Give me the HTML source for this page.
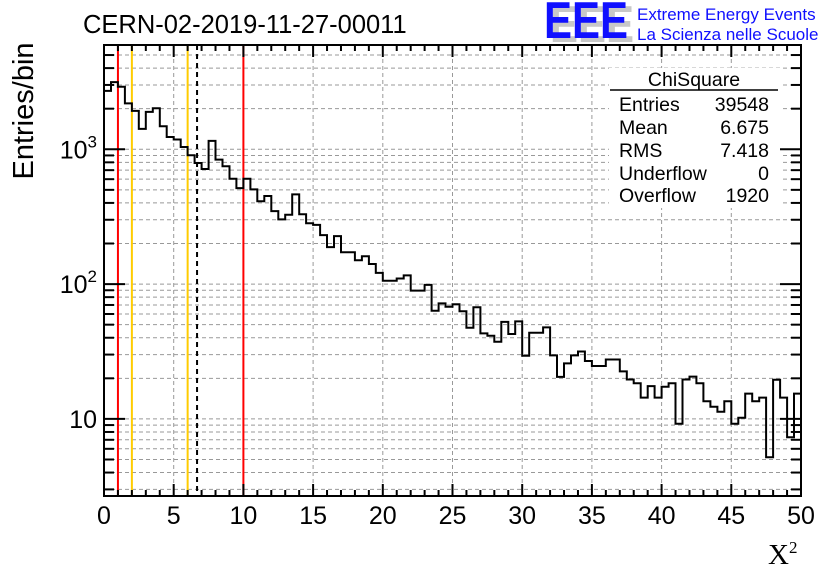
<!DOCTYPE html>
<html><head><meta charset="utf-8"><style>
html,body{margin:0;padding:0;background:#fff;}
svg{display:block;font-family:"Liberation Sans",sans-serif;}
</style></head><body>
<svg id="chart" width="836" height="572" viewBox="0 0 836 572" xmlns="http://www.w3.org/2000/svg">
<rect width="836" height="572" fill="#fff"/>
<g id="grid"></g>
<g id="vlines"></g>
<g id="hist"></g>
<g id="stats">
<rect x="609" y="68" width="172" height="140" fill="#fff"/>
<text x="694" y="86" font-size="19.5" text-anchor="middle">ChiSquare</text>
<line x1="610" y1="90" x2="778" y2="90" stroke="#000" stroke-width="1.5"/>
<g font-size="19.5"><text x="619" y="111">Entries</text><text x="769" y="111" text-anchor="end">39548</text></g>
<g font-size="19.5"><text x="619" y="134">Mean</text><text x="769" y="134" text-anchor="end">6.675</text></g>
<g font-size="19.5"><text x="619" y="157">RMS</text><text x="769" y="157" text-anchor="end">7.418</text></g>
<g font-size="19.5"><text x="619" y="180">Underflow</text><text x="769" y="180" text-anchor="end">0</text></g>
<g font-size="19.5"><text x="619" y="202">Overflow</text><text x="769" y="202" text-anchor="end">1920</text></g>
</g>
<g id="axes"></g>
<rect x="104" y="45" width="697" height="451" fill="none" stroke="#000" stroke-width="2"/>
<text x="83" y="33" font-size="25.5">CERN-02-2019-11-27-00011</text>
<g>
<text x="550" y="42" font-size="52" font-weight="bold" fill="#c8c8c8" textLength="84" lengthAdjust="spacingAndGlyphs">EEE</text>
<text x="544" y="38" font-size="52" font-weight="bold" fill="#1010ff" textLength="84" lengthAdjust="spacingAndGlyphs">EEE</text>
<text x="637" y="20" font-size="17" fill="#1010ff">Extreme Energy Events</text>
<text x="637" y="40" font-size="17" fill="#1010ff">La Scienza nelle Scuole</text>
</g>
<text transform="translate(33,111) rotate(-90)" font-size="29" text-anchor="middle">Entries/bin</text>
<text x="768" y="564" font-size="29" font-family="'Liberation Serif',serif">X<tspan font-size="17" dy="-11">2</tspan></text>
</svg>
<script>
const binEdgesStart = 0;
const binWidth = 0.5;
const counts = [2710,3150,2905,2188,1927,1416,1893,2017,1483,1234,
1181,1040,902,791,714,1153,838,748,605,515,
605,504,411,450,348,302,327,463,330,283,
275,231,188,227,172,172,150,161,141,121,
106,106,110,116,89.5,89.5,98.6,63.5,71.9,68,
70.8,62.8,47.5,67.3,43.1,41.4,37.3,52.4,42.6,52.9,
29.4,43.6,43.6,47.7,29.6,20.5,25.8,29.6,31.6,26.9,
24.7,24.7,27.6,27.6,22.5,19.6,18.4,14.4,17.5,14.4,
17.3,18.4,9.2,19.6,20.6,18.4,13.5,12.3,11.3,13.5,
9.2,10.2,15.4,13.5,14.4,5.2,19.5,14.4,7.3,15.4];
const xTicks = [0,5,10,15,20,25,30,35,40,45,50];
const yDecades = [10,100,1000];
const yDecadeLabels = [["10",""],["10","2"],["10","3"]];
const markerRed = [1,10];
const markerOrange = [2,6];
const meanValue = 6.675;

const NS="http://www.w3.org/2000/svg";
const X0=104,X1=801,Y0=496,Y1=45,XMIN=0,XMAX=50;
const YMIN=2.68,YMAX=5935;
function xs(v){return X0+(v-XMIN)/(XMAX-XMIN)*(X1-X0);}
function ys(v){return Y0-(Math.log10(v)-Math.log10(YMIN))/(Math.log10(YMAX)-Math.log10(YMIN))*(Y0-Y1);}
function mk(tag,attrs,parent){const e=document.createElementNS(NS,tag);for(const k in attrs)e.setAttribute(k,attrs[k]);parent.appendChild(e);return e;}

const grid=document.getElementById('grid');
xTicks.forEach(t=>{if(t>XMIN&&t<XMAX){const l=mk('line',{x1:xs(t),x2:xs(t),y1:Y1,y2:Y0,stroke:'#999','stroke-dasharray':'4,3','stroke-width':1},grid);

}});
for(let d=1;d<=1000;d*=10){for(let m=1;m<=9;m++){const v=d*m;if(v>YMIN&&v<YMAX){const l=mk('line',{x1:X0,x2:X1,y1:ys(v),y2:ys(v),stroke:'#999','stroke-dasharray':'4,3','stroke-width':1},grid);

}}}

const vl=document.getElementById('vlines');
markerRed.forEach(v=>{const l=mk('line',{x1:xs(v),x2:xs(v),y1:Y1,y2:Y0,stroke:'#ff0000','stroke-width':2},vl);

});
markerOrange.forEach(v=>{const l=mk('line',{x1:xs(v),x2:xs(v),y1:Y1,y2:Y0,stroke:'#ffcc00','stroke-width':2},vl);

});
const ml=mk('line',{x1:xs(meanValue),x2:xs(meanValue),y1:Y1,y2:Y0,stroke:'#000','stroke-width':2,'stroke-dasharray':'5,4'},vl);



const hist=document.getElementById('hist');
let d='';
counts.forEach((c,i)=>{const xa=xs(binEdgesStart+i*binWidth),xb=xs(binEdgesStart+(i+1)*binWidth),y=ys(c);
d+=(i===0?'M':'L')+xa.toFixed(1)+','+y.toFixed(1)+'L'+xb.toFixed(1)+','+y.toFixed(1);});
const hp=mk('path',{d:d,fill:'none',stroke:'#000','stroke-width':2},hist);



const ax=document.getElementById('axes');
for(let t=XMIN;t<=XMAX;t+=1){const major=(t%5===0);const len=major?12:6;
mk('line',{x1:xs(t),x2:xs(t),y1:Y0,y2:Y0-len,stroke:'#000','stroke-width':2},ax);
mk('line',{x1:xs(t),x2:xs(t),y1:Y1,y2:Y1+len,stroke:'#000','stroke-width':2},ax);}
xTicks.forEach(t=>{const tx=mk('text',{x:xs(t),y:524,'font-size':25,'text-anchor':'middle'},ax);tx.textContent=String(t);

});
for(let dd=1;dd<=1000;dd*=10){for(let m=1;m<=9;m++){const v=dd*m;if(v>YMIN&&v<YMAX){const len=(m===1)?21:10;
mk('line',{x1:X0,x2:X0+len,y1:ys(v),y2:ys(v),stroke:'#000','stroke-width':2},ax);
mk('line',{x1:X1,x2:X1-len,y1:ys(v),y2:ys(v),stroke:'#000','stroke-width':2},ax);}}}
yDecades.forEach((v,i)=>{const tx=mk('text',{x:97,y:ys(v)+9,'font-size':25,'text-anchor':'end'},ax);
const lab=yDecadeLabels[i];
const t1=document.createElementNS(NS,'tspan');t1.textContent=lab[0];tx.appendChild(t1);
if(lab[1]){const t2=document.createElementNS(NS,'tspan');t2.setAttribute('font-size','17');t2.setAttribute('dy','-11');t2.textContent=lab[1];tx.appendChild(t2);}
else{tx.setAttribute('x',97);}

});
</script>
</body></html>
